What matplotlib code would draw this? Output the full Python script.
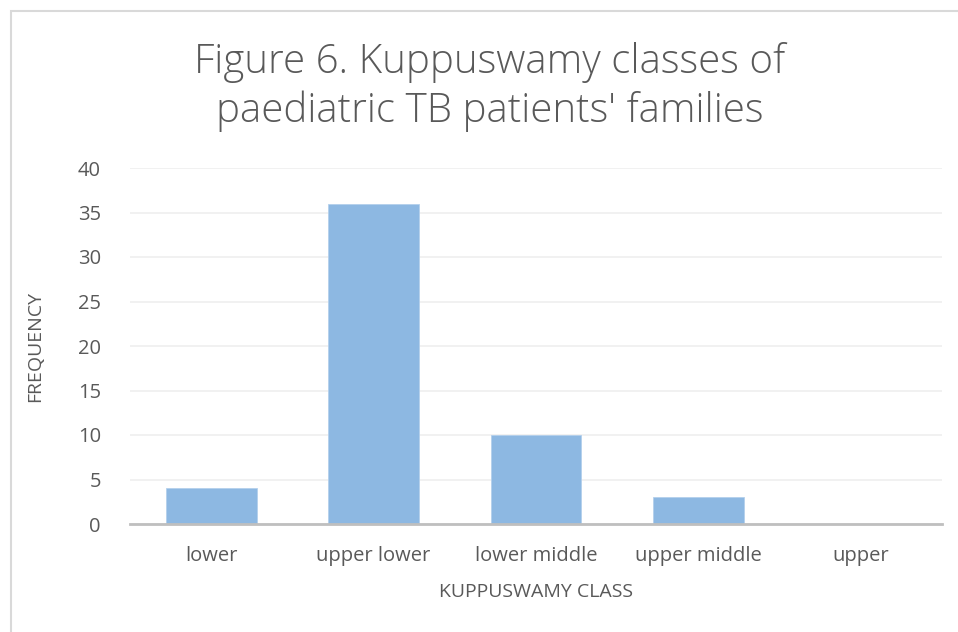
import numpy as np
import matplotlib.pyplot as plt
from matplotlib.patches import Rectangle

# Kuppuswamy class counts
classes = ["lower", "upper lower", "lower middle", "upper middle", "upper"]
frequency = [4, 36, 10, 3, 0]
y_ticks = [0, 5, 10, 15, 20, 25, 30, 35, 40]

plt.rcParams['font.family'] = ['Open Sans', 'DejaVu Sans']
text_col = "#595959"

fig = plt.figure(figsize=(9.58, 6.32), dpi=100)
ax = fig.add_axes([130/958, 1 - 524/632, 812/958, (524 - 168)/632])

# light grey chart border (cut off at right and bottom like the reference)
fig.patches.append(Rectangle((11/958, -0.1), 1.2, 1 - 11/632 + 0.1,
                             transform=fig.transFigure, fill=False,
                             edgecolor="#D9D9D9", linewidth=1.5))

x = np.arange(len(classes))
ax.bar(x, frequency, width=0.56, color="#8DB8E2", edgecolor="#B4D0EC",
       linewidth=0.6, zorder=3)

ax.set_xlim(-0.5, len(classes) - 0.5)
ax.set_ylim(0, 40)
ax.set_yticks(y_ticks)
ax.set_xticks(x)
ax.set_xticklabels(classes)
ax.yaxis.grid(True, color="#EFEFEF", linewidth=1.2, zorder=0)
ax.tick_params(axis="both", length=0, labelsize=14.5, colors=text_col)
ax.tick_params(axis="x", pad=16)
ax.tick_params(axis="y", pad=21)

for s in ["top", "right", "left"]:
    ax.spines[s].set_visible(False)
ax.spines["bottom"].set_color("#BFBFBF")
ax.spines["bottom"].set_linewidth(2)
ax.spines["bottom"].set_zorder(4)

ax.set_xlabel("KUPPUSWAMY CLASS", fontsize=14, color=text_col, labelpad=12)
ax.set_ylabel("FREQUENCY", fontsize=14, color=text_col, labelpad=24)

fig.text(490/958, 1 - 87/632,
         "Figure 6. Kuppuswamy classes of\npaediatric TB patients' families",
         ha="center", va="center", fontsize=29, color=text_col,
         fontweight="light", linespacing=1.25)

fig.savefig("out.png", dpi=100)
